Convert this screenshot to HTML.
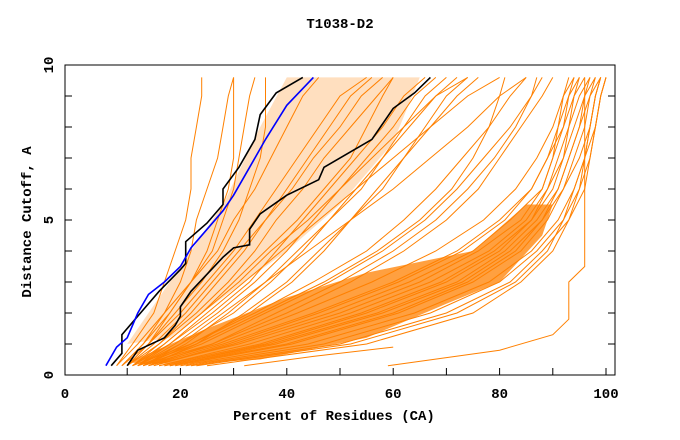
<!DOCTYPE html>
<html><head><meta charset="utf-8"><style>
body{margin:0;background:#fff;}
svg{display:block;font-family:"Liberation Mono","DejaVu Sans Mono",monospace;font-weight:bold;}
</style></head><body>
<svg id="c" width="680" height="440">
<text x="340" y="28" text-anchor="middle" font-size="14">T1038-D2</text>
<g id="plot"></g>
<rect x="65" y="65" width="550" height="310" fill="none" stroke="#000" stroke-width="1"/>
<g id="axes"></g>
<text x="334" y="420" text-anchor="middle" font-size="14">Percent of Residues (CA)</text>
<text transform="translate(31,222) rotate(-90)" text-anchor="middle" font-size="14">Distance Cutoff, A</text>
</svg>
<script>
const yLevels=[0.3,1,2,3,4,5,6,7,8,9,9.6];
const models=[
[8,12,17,22,27,30,34,37,40,43,46],
[9,14,20,25,30,34,38,42,46,50,55],
[10,16,23,29,34,38,43,47,52,57,60],
[11,18,26,33,38,43,48,53,58,62,66],
[12,20,30,37,43,48,54,58,62,66,70],
[13,22,33,41,47,52,58,62,66,70,74],
[9,13,17,20,22,23,25,27,28,29,30],
[8,11,15,17,19,21,22,22,23,24,24],
[10,14,19,24,28,31,33,35,36,36,36],
[12,17,24,30,36,42,47,52,55,58,60],
[9,13,18,22,26,28,30,31,32,33,34],
[10,15,21,26,31,36,40,44,48,52,56],
[11,16,22,27,32,36,41,45,50,54,58],
[12,19,27,34,40,45,50,55,60,64,68],
[13,21,29,36,42,48,53,58,63,68,72],
[14,23,32,40,46,52,57,62,67,72,76],
[10,14,18,22,25,27,29,30,30,30,30],
[11,17,24,31,37,44,50,56,62,68,74],
[12,18,25,32,39,46,53,60,67,74,80],
[13,20,28,36,44,52,60,67,74,80,85],
[14,28,45,60,72,80,86,89,92,94,96],
[16,33,52,67,78,85,89,92,94,96,98],
[18,38,58,73,82,88,92,95,97,98,99],
[20,44,64,78,86,91,94,96,98,99,100],
[22,50,70,82,88,93,95,97,98,99,100],
[12,26,40,52,62,70,76,80,84,88,90],
[15,30,48,63,75,82,88,90,91,92,93],
[25,55,75,84,90,93,96,97,98,99,100],
[17,36,55,70,80,86,90,92,93,94,95],
[19,41,61,75,84,89,92,94,96,97,98],
[21,47,67,80,87,92,94,96,97,98,99],
[13,24,36,48,58,66,72,77,82,86,88],
[11,22,34,45,55,62,68,73,78,82,85],
[14,31,50,65,76,84,88,90,92,93,94],
[16,35,54,69,79,86,89,91,93,95,97],
[18,40,60,74,83,88,91,93,95,96,97],
[23,52,72,83,89,92,95,96,97,98,99],
[13,27,42,56,68,77,83,87,90,92,94],
[15,29,46,61,73,81,86,89,91,93,95],
[17,37,57,72,81,87,91,93,95,97,99],
[14,26,38,50,60,68,74,79,83,86,87],
[12,23,35,47,57,65,71,75,78,80,81]
];
const outlierX=[59,80,90,93,93,96,96];
const outlierY=[0.3,0.8,1.3,1.8,3,3.5,9.6];
const outlier2X=[32,45,60];
const outlier2Y=[0.3,0.6,0.9];
const coreX=[10,25,40,55,75,85,90,88,80,70,55,35,20];
const coreY=[0.4,1.5,2.5,3.3,4,5.5,5.5,4.5,3,2.3,1.2,0.5,0.35];
const upperX=[10,20,28,35,40,65,60,50,40,28,18];
const upperY=[1,3.5,5.5,8,9.6,9.6,7.5,5.5,4,2.5,1.2];
const blueX=[6,8,10,12,14,17,20,22,25,28,30,33,36,40,45];
const blueY=[0.3,0.9,1.2,2,2.6,3,3.5,4.1,4.7,5.3,5.8,6.7,7.6,8.7,9.6];
const black1X=[7,9,9,12,16,20,21,21,25,28,28,31,34,35,38,43];
const black1Y=[0.3,0.7,1.3,1.9,2.7,3.4,3.6,4.3,4.9,5.5,6.0,6.7,7.6,8.4,9.1,9.6];
const black2X=[10,12,17,19,20,20,22,28,30,33,33,35,40,46,47,52,56,60,64,67];
const black2Y=[0.3,0.8,1.2,1.6,1.9,2.2,2.7,3.8,4.1,4.2,4.7,5.2,5.8,6.3,6.7,7.2,7.6,8.6,9.1,9.6];
const xTicks=[0,20,40,60,80,100];
const yTicks=[0,5,10];

const NS="http://www.w3.org/2000/svg";
function xs(v){return 74+5.32*v;}
function ys(v){return 375-31*v;}
const plot=document.getElementById('plot');
const axes=document.getElementById('axes');
function mk(t,a,p){const e=document.createElementNS(NS,t);for(const k in a)e.setAttribute(k,a[k]);p.appendChild(e);return e;}
function pts(X,Y){return X.map((x,i)=>xs(x).toFixed(1)+','+ys(Y[i]).toFixed(1)).join(' ');}

const core=mk('polygon',{points:pts(coreX,coreY),fill:'#ff8000','fill-opacity':'0.75',stroke:'none'},plot);


const up=mk('polygon',{points:pts(upperX,upperY),fill:'#ff8000','fill-opacity':'0.25',stroke:'none'},plot);


models.forEach((m,i)=>{
  const l=mk('polyline',{points:pts(m,yLevels),fill:'none',stroke:'#ff8000','stroke-width':'1'},plot);
  
  
});
const o1=mk('polyline',{points:pts(outlierX,outlierY),fill:'none',stroke:'#ff8000','stroke-width':'1'},plot);


const o2=mk('polyline',{points:pts(outlier2X,outlier2Y),fill:'none',stroke:'#ff8000','stroke-width':'1'},plot);


const b1=mk('polyline',{points:pts(black1X,black1Y),fill:'none',stroke:'#000','stroke-width':'1.6'},plot);


const b2=mk('polyline',{points:pts(black2X,black2Y),fill:'none',stroke:'#000','stroke-width':'1.6'},plot);


const bl=mk('polyline',{points:pts(blueX,blueY),fill:'none',stroke:'#0000ff','stroke-width':'1.6'},plot);



for(let v=10;v<=100;v+=10){
  const t=mk('line',{x1:xs(v),x2:xs(v),y1:375,y2:368,stroke:'#000'},axes);
  
  
}
xTicks.forEach(v=>{
  const t=mk('text',{x:v===0?65:xs(v),y:398,'text-anchor':'middle','font-size':'14'},axes);
  t.textContent=v;
  
  
});
for(let v=1;v<=10;v++){
  const a=mk('line',{x1:65,x2:72,y1:ys(v),y2:ys(v),stroke:'#000'},axes);
  
  
  const b=mk('line',{x1:615,x2:608,y1:ys(v),y2:ys(v),stroke:'#000'},axes);
  
  
}
yTicks.forEach(v=>{
  const t=mk('text',{transform:'translate(53,'+ys(v)+') rotate(-90)','text-anchor':'middle','font-size':'14'},axes);
  t.textContent=v;
  
  
});
</script>
</body></html>
